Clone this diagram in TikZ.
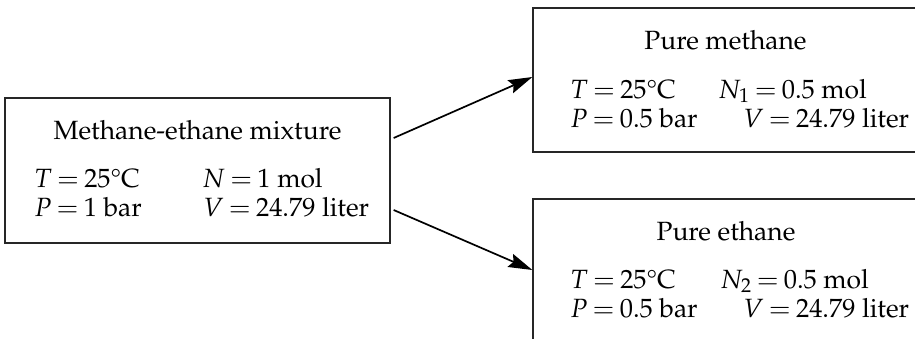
\documentclass[tikz,border=0pt]{standalone}
\usepackage[T1]{fontenc}
\usepackage{mathpazo}
\usepackage{textcomp}
\usetikzlibrary{arrows.meta}
\newcommand{\boxfont}{\fontsize{26.4}{31}\selectfont\thickmuskip=3.5mu\relax}
\begin{document}
\begin{tikzpicture}[x=1pt,y=1pt,
  box/.style={draw=black!85,line width=1.3pt,rectangle,inner sep=0pt},
  txt/.style={font=\boxfont,inner sep=0pt},
  lbl/.style={txt,anchor=base west},
  ttl/.style={txt,anchor=base},
  arr/.style={line width=1.7pt,-{Stealth[length=24pt,width=14pt,inset=3.5pt]}}]
\useasboundingbox (0,0) rectangle (915,338);
\clip (0,0) rectangle (915,338);
% boxes
\node[box,minimum width=385pt,minimum height=145pt] (mix) at (197.5,167.5) {};
\node[box,minimum width=397pt,minimum height=144pt] (top) at (731.5,258) {};
\node[box,minimum width=397pt,minimum height=146pt] (bot) at (731.5,66) {};
% left texts
\node[ttl] (mixt) at (197.5,199) {Methane-ethane mixture};
\node[lbl] (mT) at (34,151) {$T = 25$\textdegree C};
\node[lbl] (mN) at (202,151) {$N = 1$ mol};
\node[lbl] (mP) at (34,122) {$P = 1$ bar};
\node[lbl] (mV) at (203,122) {$V = 24.79$ liter};
% top texts
\node[ttl] (topt) at (725.5,288) {Pure methane};
\node[lbl] (tT) at (570,240) {$T = 25$\textdegree C};
\node[lbl] (tN) at (718,240) {$N_1 = 0.5$ mol};
\node[lbl] (tP) at (570,211) {$P = 0.5$ bar};
\node[lbl] (tV) at (743,211) {$V = 24.79$ liter};
% bottom texts
\node[ttl] (bott) at (726,98) {Pure ethane};
\node[lbl] (bT) at (570,50) {$T = 25$\textdegree C};
\node[lbl] (bN) at (720,50) {$N_2 = 0.5$ mol};
\node[lbl] (bP) at (570,21) {$P = 0.5$ bar};
\node[lbl] (bV) at (743,21) {$V = 24.79$ liter};
% arrows
\draw[arr] ([xshift=3pt,yshift=32.5pt]mix.east) -- ([yshift=3pt]top.west);
\draw[arr] ([xshift=3pt,yshift=-39.5pt]mix.east) -- ([yshift=2pt]bot.west);
\end{tikzpicture}
\end{document}
